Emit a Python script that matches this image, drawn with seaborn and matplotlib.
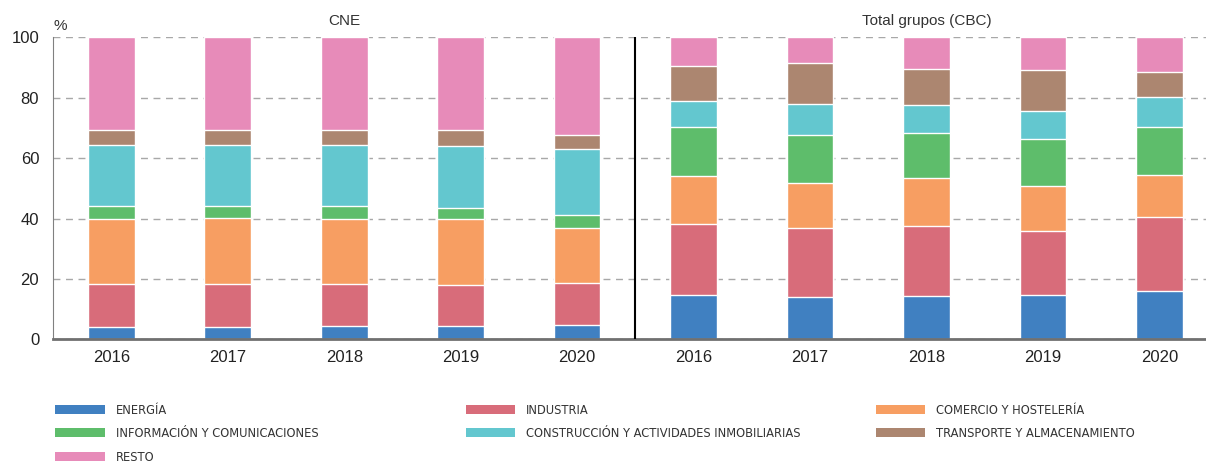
import matplotlib
matplotlib.use("Agg")
import matplotlib.pyplot as plt
import numpy as np
import pandas as pd
import seaborn as sns
from matplotlib.patches import Patch

years = ["2016", "2017", "2018", "2019", "2020"]
groups = ["CNE", "Total grupos (CBC)"]
sectors = [
    "ENERGÍA",
    "INDUSTRIA",
    "COMERCIO Y HOSTELERÍA",
    "INFORMACIÓN Y COMUNICACIONES",
    "CONSTRUCCIÓN Y ACTIVIDADES INMOBILIARIAS",
    "TRANSPORTE Y ALMACENAMIENTO",
    "RESTO",
]
colors = ["#4080C1", "#D86C7A", "#F79E62", "#5EBD6B", "#63C7CF", "#AC8670", "#E78BB9"]

# shares (%) per sector, one value per year
cne_energia = [4.2, 4.2, 4.3, 4.3, 4.6]
cne_industria = [14.0, 14.2, 13.9, 13.6, 13.9]
cne_comercio = [21.8, 21.9, 21.8, 21.8, 18.3]
cne_info = [4.3, 4.0, 4.3, 3.9, 4.3]
cne_construccion = [20.0, 20.0, 19.9, 20.5, 21.9]
cne_transporte = [5.1, 5.1, 5.0, 5.1, 4.5]
cne_resto = [30.6, 30.6, 30.8, 30.8, 32.5]

cbc_energia = [14.6, 13.9, 14.2, 14.6, 16.1]
cbc_industria = [23.6, 22.9, 23.4, 21.2, 24.4]
cbc_comercio = [15.8, 14.9, 15.7, 15.0, 13.9]
cbc_info = [16.2, 15.8, 14.9, 15.5, 15.8]
cbc_construccion = [8.7, 10.4, 9.3, 9.3, 10.0]
cbc_transporte = [11.7, 13.5, 12.1, 13.5, 8.4]
cbc_resto = [9.4, 8.6, 10.4, 10.9, 11.4]

cne = [cne_energia, cne_industria, cne_comercio, cne_info,
       cne_construccion, cne_transporte, cne_resto]
cbc = [cbc_energia, cbc_industria, cbc_comercio, cbc_info,
       cbc_construccion, cbc_transporte, cbc_resto]

keys = [f"{g}|{y}" for g in groups for y in years]
shares = np.hstack([np.array(cne), np.array(cbc)])
cum = np.cumsum(shares, axis=0)

rows = []
for i, s in enumerate(sectors):
    for j, k in enumerate(keys):
        rows.append({"key": k, "sector": s, "cum": cum[i, j]})
df = pd.DataFrame(rows)

sns.set_style("white")
plt.rcParams["font.family"] = ["Liberation Sans", "DejaVu Sans"]

fig = plt.figure(figsize=(12.06, 4.63), dpi=100)
ax = fig.add_axes([0.044, 0.2671, 0.956, 0.6523])

# stacked bars: draw cumulative totals from the top segment downwards
for i in reversed(range(len(sectors))):
    sns.barplot(
        data=df[df["sector"] == sectors[i]],
        x="key",
        y="cum",
        order=keys,
        color=colors[i],
        saturation=1,
        width=0.4,
        ax=ax,
        zorder=2,
    )

ax.set_xlim(-0.5, 9.4)
ax.set_ylim(0, 100)
ax.set_yticks([0, 20, 40, 60, 80, 100])
ax.yaxis.grid(True, color="#A8A8A8", linestyle=(0, (5, 4)), linewidth=1, zorder=0)
ax.set_axisbelow(True)
ax.tick_params(axis="y", length=0, pad=10, labelsize=12, labelcolor="#222222")

ax.set_xticks(range(len(keys)))
ax.set_xticklabels(years + years)
ax.tick_params(axis="x", length=0, pad=8, labelsize=12, labelcolor="#222222")
ax.set_xticks(np.arange(0.5, 9, 1), minor=True)
ax.tick_params(axis="x", which="minor", direction="in", length=5, color="#909090", width=1)
ax.set_xlabel("")
ax.set_ylabel("")

for side in ["top", "right"]:
    ax.spines[side].set_visible(False)
ax.spines["bottom"].set_color("#707070")
ax.spines["bottom"].set_linewidth(2)
ax.spines["left"].set_color("#808080")
ax.spines["left"].set_linewidth(0.8)

ax.axvline(4.5, ymin=0, ymax=1, color="black", linewidth=1.5, zorder=3)

ax.text(2, 103, groups[0], ha="center", va="bottom", fontsize=11, color="#333333")
ax.text(7, 103, groups[1], ha="center", va="bottom", fontsize=11, color="#333333")
ax.text(-0.5, 101.5, "%", ha="left", va="bottom", fontsize=11, color="#333333")

handles = [Patch(facecolor=c, edgecolor="none") for c in colors]
columns = [[0, 3, 6], [1, 4], [2, 5]]
col_x = [0.046, 0.386, 0.726]
for idx, x in zip(columns, col_x):
    fig.legend(
        [handles[i] for i in idx],
        [sectors[i] for i in idx],
        loc="upper left",
        bbox_to_anchor=(x, 0.128),
        frameon=False,
        borderpad=0,
        borderaxespad=0,
        handlelength=3.9,
        handleheight=0.75,
        handletextpad=0.8,
        labelspacing=0.82,
        prop={"family": "DejaVu Sans", "size": 9.2, "stretch": "condensed"},
        labelcolor="#333333",
    )

fig.savefig("out.png", dpi=100)
